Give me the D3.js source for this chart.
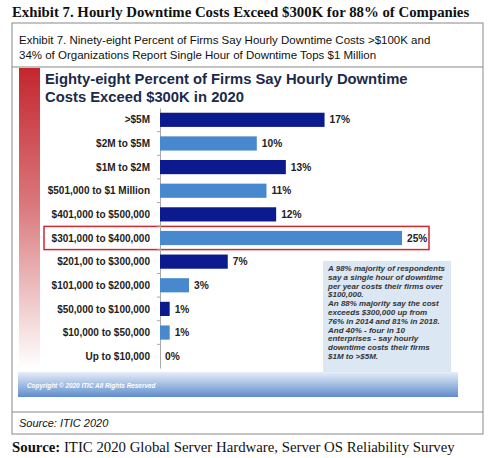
<!DOCTYPE html>
<html>
<head>
<meta charset="utf-8">
<script src="https://cdn.jsdelivr.net/npm/d3@7"></script>
<style>
    body { margin: 0; background: #fff; }
    .cat { font-family: "Liberation Sans", Arial, sans-serif; font-weight: bold; font-size: 10px; fill: #222; }
    .val { font-family: "Liberation Sans", Arial, sans-serif; font-weight: bold; font-size: 10.2px; fill: #222; }
    .note { font-family: "Liberation Sans", Arial, sans-serif; font-weight: bold; font-style: italic; font-size: 8px; fill: #333; }
</style>
</head>
<body>
<svg id="chart" width="500" height="458"></svg>
<script>
const categories = [">$5M", "$2M to $5M", "$1M to $2M", "$501,000 to $1 Million", "$401,000 to $500,000",
    "$301,000 to $400,000", "$201,00 to $300,000", "$101,000 to $200,000", "$50,000 to $100,000",
    "$10,000 to $50,000", "Up to $10,000"];
const values = [17, 10, 13, 11, 12, 25, 7, 3, 1, 1, 0];
const highlighted = "$301,000 to $400,000";
const noteLines = ["A 98% majority of respondents", "say a single hour of downtime",
    "per year costs their firms over", "$100,000.", "An 88% majority say the cost",
    "exceeds $300,000  up from", "76% in 2014 and 81% in 2018.", "And 40%  - four in 10",
    "enterprises - say hourly", "downtime costs their firms", "$1M to >$5M."];

const svg = d3.select("#chart");
const defs = svg.append("defs");

let red = defs.append("linearGradient").attr("id", "redfade").attr("x1", 0).attr("x2", 0).attr("y1", 0).attr("y2", 1);
red.append("stop").attr("offset", "0%").attr("stop-color", "#c4262e");
red.append("stop").attr("offset", "45%").attr("stop-color", "#d9777b");
red.append("stop").attr("offset", "100%").attr("stop-color", "#ffffff");

let band = defs.append("linearGradient").attr("id", "bandfade").attr("x1", 0).attr("x2", 0).attr("y1", 0).attr("y2", 1);
band.append("stop").attr("offset", "0%").attr("stop-color", "#e6eef8");
band.append("stop").attr("offset", "100%").attr("stop-color", "#5f8dcc");

// headline above the box
svg.append("text").attr("x", 12).attr("y", 17)
    .style("font-family", "'Liberation Serif', 'Times New Roman', serif")
    .style("font-weight", "bold").style("font-size", "14.8px").style("fill", "#111")
    .text("Exhibit 7. Hourly Downtime Costs Exceed $300K for 88% of Companies");

// outer frame
svg.append("rect").attr("x", 12).attr("y", 23).attr("width", 471).attr("height", 411)
    .attr("fill", "none").attr("stroke", "#888").attr("stroke-width", 1);
svg.append("line").attr("x1", 12).attr("x2", 483).attr("y1", 67).attr("y2", 67).attr("stroke", "#888");
svg.append("line").attr("x1", 12).attr("x2", 483).attr("y1", 412).attr("y2", 412).attr("stroke", "#888");

let cap = svg.append("text").style("font-family", "'Liberation Sans', Arial, sans-serif")
    .style("font-size", "11.5px").style("fill", "#111");
cap.append("tspan").attr("x", 19).attr("y", 44)
    .text("Exhibit 7.  Ninety-eight Percent of Firms Say Hourly Downtime Costs >$100K and");
cap.append("tspan").attr("x", 19).attr("y", 59)
    .text("34% of Organizations Report Single Hour of Downtime Tops $1 Million");

// red side strip
svg.append("rect").attr("x", 19).attr("y", 68).attr("width", 21).attr("height", 300).attr("fill", "url(#redfade)");

// chart title
let title = svg.append("text").style("font-family", "'Liberation Sans', Arial, sans-serif")
    .style("font-weight", "bold").style("font-size", "14.8px").style("fill", "#1c2a4a");
title.append("tspan").attr("x", 45).attr("y", 84).text("Eighty-eight Percent of Firms Say Hourly Downtime");
title.append("tspan").attr("x", 45).attr("y", 102).text("Costs Exceed $300K in 2020");

// scales
let yScale = d3.scaleBand().domain(categories).range([108, 368]).paddingInner(0.4).paddingOuter(0.2);
let xScale = d3.scaleLinear().domain([0, 25]).range([160, 402]);

// annotation box
svg.append("rect").attr("x", 323).attr("y", 261).attr("width", 128).attr("height", 112).attr("fill", "#dce7f4");
svg.append("g").selectAll("text").data(noteLines).join("text")
    .attr("class", "note").attr("x", 328).attr("y", (d, i) => 271 + i * 8.8).text(d => d);

// copyright band
svg.append("rect").attr("x", 18).attr("y", 372).attr("width", 440).attr("height", 25).attr("fill", "url(#bandfade)");
svg.append("text").attr("x", 27).attr("y", 388)
    .style("font-family", "'Liberation Sans', Arial, sans-serif").style("font-weight", "bold")
    .style("font-style", "italic").style("font-size", "6.4px").style("fill", "#fff")
    .text("Copyright \u00a9 2020 ITIC All Rights Reserved");

// highlight box
svg.append("rect").attr("x", 44).attr("y", yScale(highlighted) - 4.5)
    .attr("width", 385).attr("height", yScale.bandwidth() + 9)
    .attr("fill", "none").attr("stroke", "#cc2a30").attr("stroke-width", 1.5);

// axis line with small ticks
let yAxis = d3.axisLeft(yScale).tickSize(0).tickFormat("");
let ax = svg.append("g").attr("transform", "translate(" + xScale(0) + ",0)").call(yAxis);
ax.select(".domain").attr("stroke", "#aaa");
svg.append("g").selectAll("line").data(categories.slice(1)).join("line")
    .attr("x1", xScale(0) - 3).attr("x2", xScale(0))
    .attr("y1", d => yScale(d) - yScale.step() * yScale.paddingInner() / 2)
    .attr("y2", d => yScale(d) - yScale.step() * yScale.paddingInner() / 2)
    .attr("stroke", "#aaa");

// bars
svg.append("g").selectAll("rect").data(categories).join("rect")
    .attr("x", xScale(0))
    .attr("y", d => yScale(d))
    .attr("width", (d, i) => xScale(values[i]) - xScale(0))
    .attr("height", yScale.bandwidth())
    .attr("fill", (d, i) => i % 2 === 0 ? "#0b1a8c" : "#4788cf");

svg.append("g").selectAll("text").data(categories).join("text")
    .attr("class", "cat").attr("x", 150).attr("y", d => yScale(d) + yScale.bandwidth() / 2 + 3.6)
    .attr("text-anchor", "end").text(d => d);

svg.append("g").selectAll("text").data(categories).join("text")
    .attr("class", "val").attr("x", (d, i) => xScale(values[i]) + 5)
    .attr("y", d => yScale(d) + yScale.bandwidth() / 2 + 3.6)
    .text((d, i) => values[i] + "%");

// source lines
svg.append("text").attr("x", 19).attr("y", 427)
    .style("font-family", "'Liberation Sans', Arial, sans-serif").style("font-style", "italic")
    .style("font-size", "11px").style("fill", "#111").text("Source: ITIC 2020");

let src = svg.append("text").attr("x", 12).attr("y", 452)
    .style("font-family", "'Liberation Serif', 'Times New Roman', serif")
    .style("font-size", "14.8px").style("fill", "#111");
src.append("tspan").style("font-weight", "bold").text("Source:");
src.append("tspan").text(" ITIC 2020 Global Server Hardware, Server OS Reliability Survey");
</script>
</body>
</html>
